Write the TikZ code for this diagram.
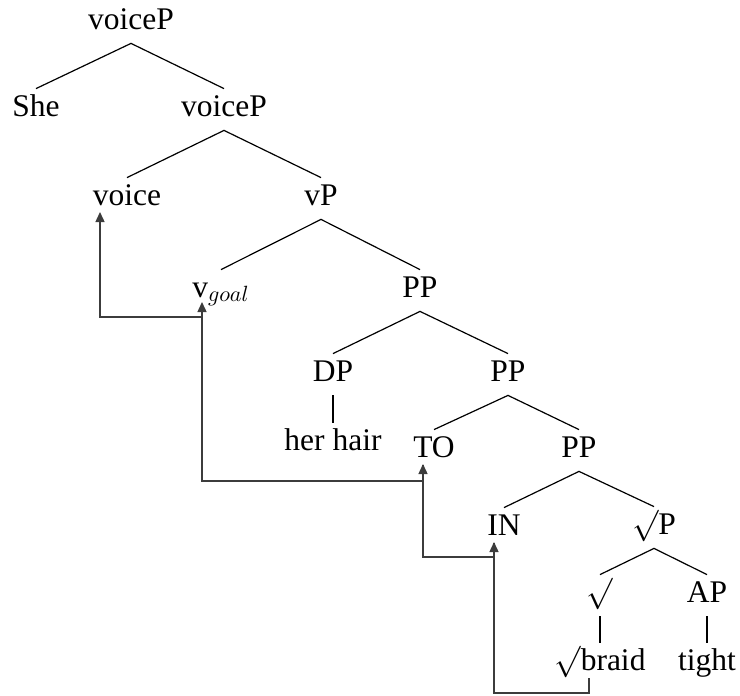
\RequirePackage{fix-cm}
\documentclass[tikz,border=0pt]{standalone}
\usepackage{fontspec}
\setmainfont{Liberation Serif}
\usepackage{tikz}
\definecolor{movegray}{RGB}{60,60,60}
\usetikzlibrary{arrows.meta, calc}

\newcommand{\rootsign}{\raisebox{-0.25em}{\resizebox*{!}{1em}{\raisebox{\depth}{$\surd$}}}}

\tikzset{
    cat/.style={anchor=base, font=\fontsize{15.75}{19}\selectfont,
        inner xsep=1pt, inner ysep=1.6pt, text height=11.9pt, text depth=5.4pt},
    branch/.style={line width=0.6pt},
    unary/.style={line width=1pt},
    movement/.style={draw=movegray, line width=0.7pt,
        -{Triangle[length=5pt,width=4.5pt]}}
}

\begin{document}
\begin{tikzpicture}[x=0.5pt, y=-0.5pt]
    \useasboundingbox (0,0) rectangle (740,696);

    % categories
    \node[cat] (voiceP)   at (131,29)  {voiceP};
    \node[cat] (she)      at (36,116)  {She};
    \node[cat] (voicePb)  at (224,116) {voiceP};
    \node[cat] (voice)    at (127,205) {voice};
    \node[cat] (vP)       at (321,205) {vP};
    \node[cat] (vgoal)    at (221,297) {v$_{goal}$};
    \node[cat] (PPa)      at (420,297) {PP};
    \node[cat] (DP)       at (333,381) {DP};
    \node[cat] (PPb)      at (508,381) {PP};
    \node[cat] (herhair)  at (333,450) {her hair};
    \node[cat] (TO)       at (434,457) {TO};
    \node[cat] (PPc)      at (579,457) {PP};
    \node[cat] (IN)       at (504,535) {IN};
    \node[cat] (rootP)    at (654,534) {\rootsign P};
    \node[cat] (root)     at (600,602) {\rootsign};
    \node[cat] (AP)       at (707,602) {AP};
    \node[cat] (braid)    at (600,670) {\rootsign braid};
    \node[cat] (tight)    at (707,670) {tight};

    % branches
    \draw[branch] (she.north) -- (voiceP.south) -- (voicePb.north);
    \draw[branch] (voice.north) -- (voicePb.south) -- (vP.north);
    \draw[branch] (vgoal.north) -- (vP.south) -- (PPa.north);
    \draw[branch] (DP.north) -- (PPa.south) -- (PPb.north);
    \draw[branch] (TO.north) -- (PPb.south) -- (PPc.north);
    \draw[branch] (IN.north) -- (PPc.south) -- (rootP.north);
    \draw[branch] (root.north) -- (rootP.south) -- (AP.north);
    \draw[unary] (DP.south) -- (herhair.north);
    \draw[unary] (root.south) -- (braid.north);
    \draw[unary] (AP.south) -- (tight.north);

    % head movement
    \draw[movement] ($(vgoal.base)+(-19,8)$) -- ++(0,12) -| ($(voice.base)+(-27,7)$);
    \draw[movement] ($(TO.base)+(-11,8)$) -- ++(0,16) -| ($(vgoal.base)+(-19,5)$);
    \draw[movement] ($(IN.base)+(-10,8)$) -- ++(0,14) -| ($(TO.base)+(-11,7)$);
    \draw[movement] ($(braid.base)+(-11,8)$) -- ++(0,15) -| ($(IN.base)+(-10,7)$);
\end{tikzpicture}
\end{document}
